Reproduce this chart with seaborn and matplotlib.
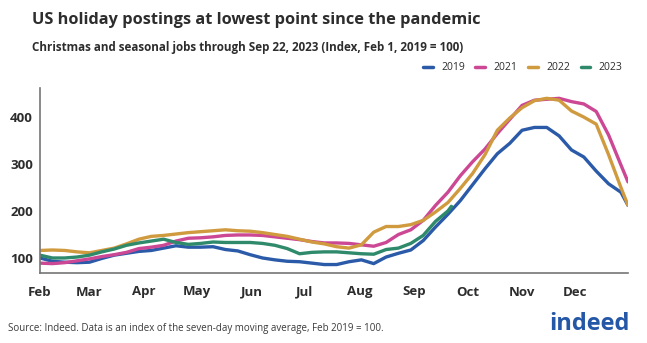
import numpy as np
import pandas as pd
import matplotlib
matplotlib.use("Agg")
import matplotlib.pyplot as plt
import matplotlib.dates as mdates
import seaborn as sns

# ---- data (index, Feb 1, 2019 = 100), weekly from Feb 1 plus Dec 31 ----
dates = list(pd.date_range("2023-02-01", "2023-12-27", freq="7D")) + [pd.Timestamp("2023-12-31")]

y2019 = [100, 93, 91, 90, 91, 99, 106, 110, 114, 116, 121, 126, 123, 123, 124, 118,
         115, 107, 100, 96, 93, 92, 89, 86, 86, 92, 96, 88, 102, 110, 117, 137,
         166, 193, 222, 256, 290, 322, 344, 372, 378, 378, 360, 330, 315, 285, 258, 240, 212]
y2021 = [89, 88, 90, 94, 98, 103, 107, 112, 120, 123, 127, 136, 142, 143, 145, 148,
         149, 149, 148, 145, 142, 139, 135, 132, 132, 131, 128, 125, 133, 150, 160, 180,
         212, 240, 275, 305, 332, 365, 395, 425, 436, 438, 440, 433, 428, 412, 362, 298, 262]
y2022 = [116, 117, 116, 113, 111, 116, 121, 130, 140, 146, 148, 151, 154, 156, 158, 160,
         158, 157, 154, 150, 146, 140, 134, 130, 124, 121, 128, 155, 167, 167, 171, 180,
         198, 218, 248, 280, 320, 372, 398, 420, 435, 440, 436, 413, 400, 385, 320, 250, 212]
dates2023 = list(pd.date_range("2023-02-01", "2023-09-20", freq="7D")) + [pd.Timestamp("2023-09-22")]
y2023 = [106, 100, 100, 102, 106, 113, 119, 127, 132, 136, 140, 133, 129, 131, 134, 133,
         133, 133, 131, 127, 120, 109, 112, 113, 113, 111, 109, 108, 118, 121, 131, 148,
         178, 200, 210]

years = ["2019", "2021", "2022", "2023"]
colors = {"2019": "#2a5aa8", "2021": "#cc4794", "2022": "#d09a3e", "2023": "#2f8a6c"}

frames = []
for yr, xs, vals in [("2019", dates, y2019), ("2021", dates, y2021),
                     ("2022", dates, y2022), ("2023", dates2023, y2023)]:
    frames.append(pd.DataFrame({"date": xs, "value": vals, "year": yr}))
df = pd.concat(frames, ignore_index=True)

sns.set_theme(style="white")
plt.rcParams["font.family"] = ["Open Sans", "DejaVu Sans"]

fig = plt.figure(figsize=(6.47, 3.43), dpi=100)
ax = fig.add_axes([40/647, 1-273/343, (628-40)/647, (273-88)/343])

sns.lineplot(data=df, x="date", y="value", hue="year", hue_order=years,
             palette=colors, linewidth=2.4, ax=ax, legend=False)

ax.set_xlim(pd.Timestamp("2023-02-01"), pd.Timestamp("2023-12-31"))
ax.set_ylim(68, 462)
ax.set_yticks([100, 200, 300, 400])
ax.xaxis.set_major_locator(mdates.MonthLocator())
ax.xaxis.set_major_formatter(mdates.DateFormatter("%b"))
ax.set_xlabel("")
ax.set_ylabel("")
ax.tick_params(axis="both", length=0, labelsize=9.5, colors="#2d2d2d")
ax.tick_params(axis="x", pad=9)
ax.tick_params(axis="y", pad=5)
for lab in ax.get_xticklabels() + ax.get_yticklabels():
    lab.set_fontweight("bold")
for s in ["top", "right"]:
    ax.spines[s].set_visible(False)
for s in ["left", "bottom"]:
    ax.spines[s].set_color("#767676")
    ax.spines[s].set_linewidth(1.2)
ax.grid(False)

from matplotlib.lines import Line2D
handles = [Line2D([0], [0], color=colors[y], lw=2.5) for y in years]
fig.legend(handles, years, loc="center right", bbox_to_anchor=(632/647, 1-68/343),
           ncol=4, frameon=False, fontsize=7.5, handlelength=0.95, handletextpad=0.8,
           columnspacing=1.0, labelcolor="#2d2d2d")

fig.text(32/647, 1-20/343, "US holiday postings at lowest point since the pandemic",
         fontsize=11.8, fontweight="bold", color="#2d2d2d", va="center", ha="left")
fig.text(32/647, 1-47/343, "Christmas and seasonal jobs through Sep 22, 2023 (Index, Feb 1, 2019 = 100)",
         fontsize=8.35, fontweight="bold", color="#2d2d2d", va="center", ha="left")
fig.text(8/647, 1-328/343, "Source: Indeed. Data is an index of the seven-day moving average, Feb 2019 = 100.",
         fontsize=7, color="#3a3a3a", va="center", ha="left")
fig.text(630/647, 1-324/343, "indeed", fontsize=17, fontweight="bold", color="#2557a7",
         va="center", ha="right")

fig.savefig("out.png", dpi=100)
